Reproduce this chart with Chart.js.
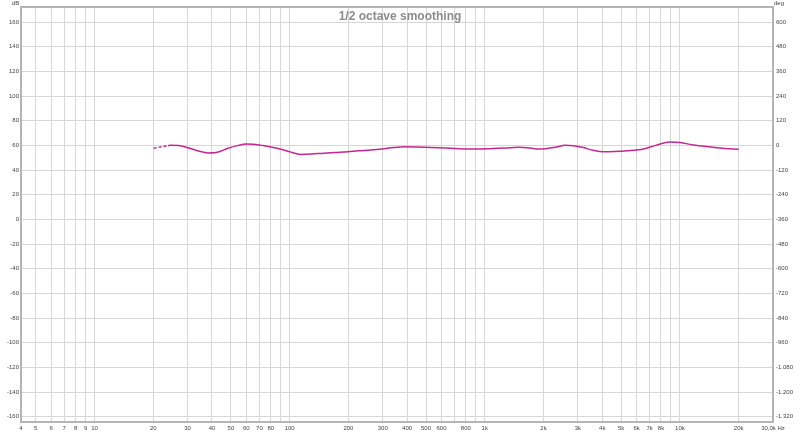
<!DOCTYPE html>
<html>
<head>
<meta charset="utf-8">
<script src="https://cdn.jsdelivr.net/npm/chart.js@4"></script>
<style>
html,body{margin:0;padding:0;background:#ffffff;}
canvas{display:block;}
</style>
</head>
<body>
<canvas id="c" width="800" height="435"></canvas>
<script>
// ---- Data ----
const freqs = [20.1, 22, 23.8, 24.6, 27, 30.1, 34, 38.1, 42, 48.3, 54, 59.8, 65, 71.6, 80, 90.3, 100, 114.4, 130, 145, 170, 199, 224, 260, 297, 340, 391, 450, 577, 700, 860, 1050, 1274, 1485, 1700, 1882, 2050, 2300, 2588, 2846, 3200, 3600, 4055, 4600, 5365, 6506, 7500, 8949, 10000, 11744, 14355, 17000, 20000];
const splDb = [57.6, 58.8, 59.7, 60.0, 59.9, 58.1, 55.5, 53.8, 54.2, 57.6, 59.8, 61.1, 61.0, 60.0, 58.7, 56.8, 54.8, 52.7, 53.0, 53.5, 54.2, 54.8, 55.6, 56.2, 57.0, 58.2, 58.9, 58.7, 58.1, 57.5, 57.0, 57.3, 57.8, 58.4, 57.9, 57.0, 57.3, 58.4, 60.0, 59.7, 58.2, 56.0, 54.8, 55.0, 55.6, 57.0, 60.0, 62.7, 62.3, 60.3, 58.7, 57.5, 56.8];

const xGridValues = [4.2, 5, 6, 7, 8, 9, 10, 20, 30, 40, 50, 60, 70, 80, 90, 100, 200, 300, 400, 500, 600, 700, 800, 900, 1000, 2000, 3000, 4000, 5000, 6000, 7000, 8000, 9000, 10000, 20000, 30000];
const xTickLabels = ['4', '5', '6', '7', '8', '9', '10', '20', '30', '40', '50', '60', '70', '80', '', '100', '200', '300', '400', '500', '600', '', '800', '', '1k', '2k', '3k', '4k', '5k', '6k', '7k', '8k', '', '10k', '20k', '30,0k Hz'];

const dbTickValues = [-160, -140, -120, -100, -80, -60, -40, -20, 0, 20, 40, 60, 80, 100, 120, 140, 160];
const dbTickLabels = ['-160', '-140', '-120', '-100', '-80', '-60', '-40', '-20', '0', '20', '40', '60', '80', '100', '120', '140', '160'];

const degTickValues = [-1320, -1200, -1080, -960, -840, -720, -600, -480, -360, -240, -120, 0, 120, 240, 360, 480, 600];
const degTickLabels = ['-1.320', '-1.200', '-1.080', '-960', '-840', '-720', '-600', '-480', '-360', '-240', '-120', '0', '120', '240', '360', '480', '600'];

const titleText = '1/2 octave smoothing';
const leftUnit = 'dB';
const rightUnit = 'deg';

// ---- Styles ----
const FONT = '"Liberation Sans", Arial, sans-serif';
const gridColor = '#d6d6d6';
const tickColor = '#444444';
const lineColor = '#c4288f';

const overlay = {
  id: 'overlay',
  afterDraw(chart) {
    const ctx = chart.ctx;
    const a = chart.chartArea;
    ctx.save();
    ctx.strokeStyle = '#b4b4b4';
    ctx.lineWidth = 2;
    ctx.strokeRect(a.left, a.top, a.right - a.left, a.bottom - a.top);
    ctx.fillStyle = '#8c8c8c';
    ctx.font = 'bold 12px ' + FONT;
    ctx.textAlign = 'center';
    ctx.textBaseline = 'alphabetic';
    ctx.fillText(titleText, 400, 19.5);
    ctx.fillStyle = tickColor;
    ctx.font = '6px ' + FONT;
    ctx.textBaseline = 'middle';
    ctx.textAlign = 'center';
    ctx.fillText(leftUnit, 15.5, 3.5);
    ctx.fillText(rightUnit, 779, 3.5);
    ctx.restore();
  }
};

new Chart(document.getElementById('c'), {
  type: 'line',
  data: {
    datasets: [{
      data: freqs.map((f, i) => ({x: f, y: splDb[i]})),
      borderColor: lineColor,
      borderWidth: 1.5,
      pointRadius: 0,
      fill: false,
      cubicInterpolationMode: 'monotone',
      segment: {
        borderDash: ctx => (ctx.p1.parsed.x <= 23.8 ? [3, 2] : undefined)
      }
    }]
  },
  options: {
    responsive: false,
    animation: false,
    devicePixelRatio: 1,
    layout: {padding: {top: 7, left: 0, right: 0, bottom: 0}},
    plugins: {legend: {display: false}, tooltip: {enabled: false}, title: {display: false}},
    scales: {
      x: {
        type: 'logarithmic',
        min: 4.2,
        max: 30000,
        afterBuildTicks: axis => { axis.ticks = xGridValues.map(v => ({value: v})); },
        afterFit: s => { s.height = 13; },
        grid: {color: gridColor, lineWidth: 1, drawTicks: false},
        border: {display: false},
        ticks: {
          autoSkip: false, maxRotation: 0, minRotation: 0, padding: 3,
          color: tickColor, font: {family: FONT, size: 6},
          callback: (v, i) => xTickLabels[i]
        }
      },
      y: {
        type: 'linear',
        position: 'left',
        min: -164.3,
        max: 172.2,
        afterBuildTicks: axis => { axis.ticks = dbTickValues.map(v => ({value: v})); },
        afterFit: s => { s.width = 21; },
        grid: {color: gridColor, lineWidth: 1, drawTicks: false},
        border: {display: false},
        ticks: {
          padding: 2, color: tickColor, font: {family: FONT, size: 6},
          callback: (v, i) => dbTickLabels[i]
        }
      },
      y2: {
        type: 'linear',
        position: 'right',
        min: -1345.8,
        max: 673.2,
        afterBuildTicks: axis => { axis.ticks = degTickValues.map(v => ({value: v})); },
        afterFit: s => { s.width = 27; },
        grid: {drawOnChartArea: false, drawTicks: false},
        border: {display: false},
        ticks: {
          padding: 3, color: tickColor, font: {family: FONT, size: 6},
          callback: (v, i) => degTickLabels[i]
        }
      }
    }
  },
  plugins: [overlay]
});
</script>
</body>
</html>
